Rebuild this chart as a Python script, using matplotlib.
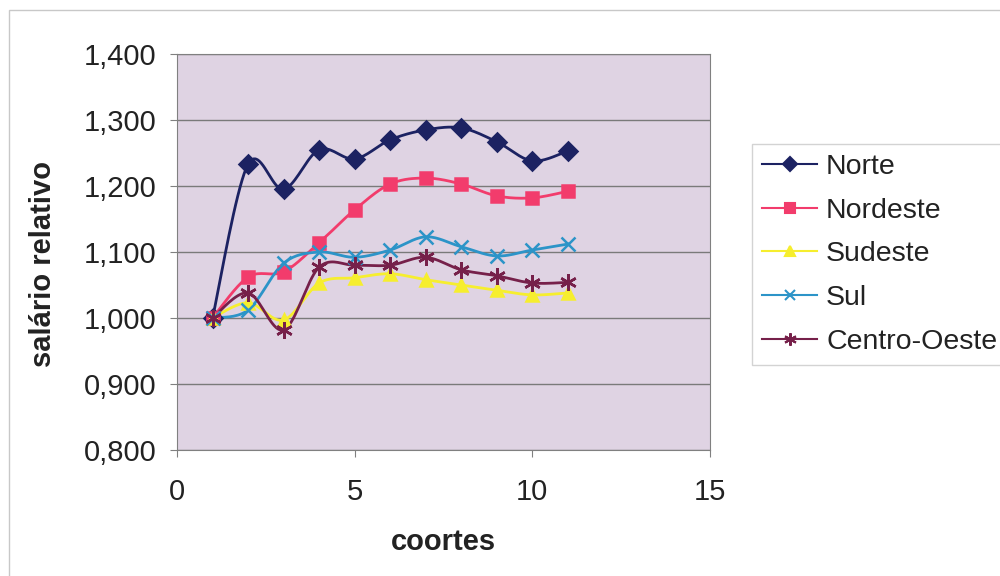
import numpy as np
import matplotlib
matplotlib.use("Agg")
import matplotlib.pyplot as plt
from matplotlib.patches import Rectangle
from matplotlib.lines import Line2D

plt.rcParams['font.family'] = ['Liberation Sans', 'DejaVu Sans']

# data
coortes = [1, 2, 3, 4, 5, 6, 7, 8, 9, 10, 11]
norte = [1.000, 1.233, 1.195, 1.255, 1.241, 1.270, 1.285, 1.288, 1.267, 1.238, 1.253]
nordeste = [1.000, 1.062, 1.070, 1.114, 1.164, 1.203, 1.212, 1.203, 1.185, 1.182, 1.192]
sudeste = [1.000, 1.023, 0.997, 1.053, 1.061, 1.067, 1.058, 1.050, 1.042, 1.035, 1.038]
sul = [1.000, 1.012, 1.083, 1.100, 1.092, 1.103, 1.123, 1.108, 1.094, 1.103, 1.112]
centro_oeste = [1.000, 1.038, 0.982, 1.077, 1.080, 1.080, 1.092, 1.073, 1.064, 1.053, 1.054]

series = [
    ("Norte", norte, "#1C2262", "D", 9),
    ("Nordeste", nordeste, "#F23C6C", "s", 9),
    ("Sudeste", sudeste, "#F6EE2E", "^", 9),
    ("Sul", sul, "#2C94C8", "x", 10),
    ("Centro-Oeste", centro_oeste, "#76204A", (6, 2, 0), 12),
]
y_ticks = [0.8, 0.9, 1.0, 1.1, 1.2, 1.3, 1.4]
x_ticks = [0, 5, 10, 15]


def smooth(x, y, n=20):
    # Excel-like smoothed line (Catmull-Rom through the points)
    x = np.asarray(x, float)
    y = np.asarray(y, float)
    px = np.concatenate([[x[0]], x, [x[-1]]])
    py = np.concatenate([[y[0]], y, [y[-1]]])
    xs, ys = [], []
    t = np.linspace(0, 1, n)
    for i in range(1, len(px) - 2):
        p0, p1, p2, p3 = (np.array([px[j], py[j]]) for j in (i - 1, i, i + 1, i + 2))
        c1 = p1 + (p2 - p0) / 6
        c2 = p2 - (p3 - p1) / 6
        pts = ((1 - t) ** 3)[:, None] * p1 + (3 * (1 - t) ** 2 * t)[:, None] * c1 \
            + (3 * (1 - t) * t ** 2)[:, None] * c2 + (t ** 3)[:, None] * p2
        xs.extend(pts[:, 0])
        ys.extend(pts[:, 1])
    return xs, ys


fig = plt.figure(figsize=(10, 5.76), dpi=100)
fig.patches.append(Rectangle((9 / 1000, -0.1), 1.2, 1 - 10 / 576 + 0.1, transform=fig.transFigure,
                             fill=False, edgecolor="#C8C8C8", linewidth=1))

ax = fig.add_axes([0.177, 1 - 450 / 576, 0.533, 396 / 576])
ax.set_facecolor("#DFD3E3")

handles = []
for name, vals, color, marker, ms in series:
    sx, sy = smooth(coortes, vals)
    ax.plot(sx, sy, color=color, linewidth=2, zorder=3)
    ax.plot(coortes, vals, linestyle="none", marker=marker, markersize=ms, color=color,
            markeredgecolor=color, markeredgewidth=1.8, zorder=4)
    handles.append(Line2D([], [], color=color, linewidth=1.5, marker=marker, markersize=ms * 0.75,
                          markeredgecolor=color, markeredgewidth=1.5))

ax.set_xlim(0, 15)
ax.set_ylim(0.8, 1.4)
ax.set_xticks(x_ticks)
ax.set_yticks(y_ticks)
ax.set_yticklabels([f"{v:.3f}".replace(".", ",") for v in y_ticks])
ax.yaxis.grid(True, color="#7A7A7A", linewidth=1)
ax.set_axisbelow(True)
for s in ax.spines.values():
    s.set_color("#808080")
ax.tick_params(axis="both", labelsize=21, colors="#808080", labelcolor="#222222",
               length=5, direction="out")
ax.tick_params(axis="x", pad=15)
ax.tick_params(axis="y", pad=10)

ax.set_xlabel("coortes", fontsize=21, fontweight="bold", color="#222222", labelpad=16)
ax.set_ylabel("salário relativo", fontsize=21, fontweight="bold", color="#222222", labelpad=8)
ax.yaxis.set_label_coords(-0.225, 0.47)

leg = fig.legend(handles, [s[0] for s in series], loc="upper left",
                 bbox_to_anchor=(752 / 1000, 1 - 144 / 576), fontsize=20.5,
                 frameon=True, fancybox=False, handlelength=1.95, handletextpad=0.3,
                 labelspacing=0.62, borderpad=0.35, borderaxespad=0)
leg.get_frame().set_edgecolor("#C8C8C8")
leg.get_frame().set_linewidth(1)
for t in leg.get_texts():
    t.set_color("#222222")

fig.savefig("out.png", dpi=100, facecolor="white")
